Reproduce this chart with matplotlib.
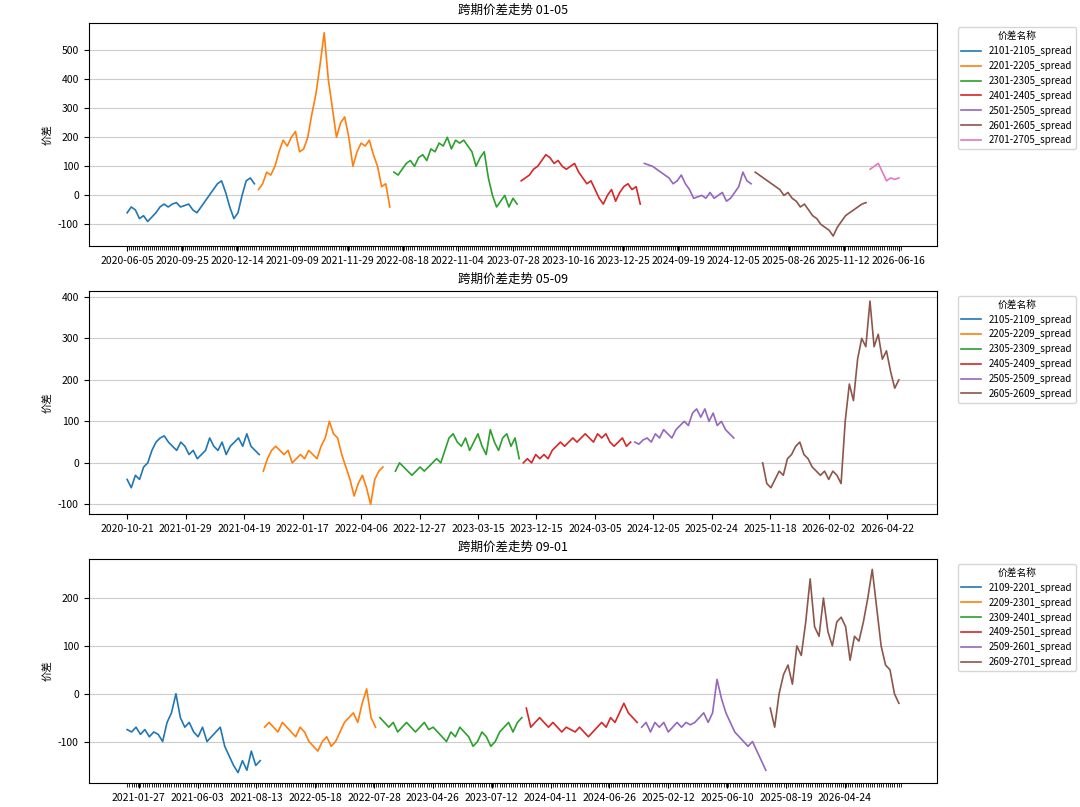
import numpy as np
import matplotlib
matplotlib.use("Agg")
import matplotlib.pyplot as plt
from matplotlib.ticker import FixedLocator

plt.rcParams['font.family'] = ['Noto Sans CJK SC', 'DejaVu Sans']
plt.rcParams['axes.unicode_minus'] = False

# ---- panel 1: 01-05 ----
names_0105 = ["2101-2105_spread", "2201-2205_spread", "2301-2305_spread",
              "2401-2405_spread", "2501-2505_spread", "2601-2605_spread",
              "2701-2705_spread"]
vals_0105 = [
    [-60, -40, -50, -80, -70, -90, -75, -60, -40, -30, -40, -30, -25, -40, -35,
     -30, -50, -60, -40, -20, 0, 20, 40, 50, 10, -40, -80, -60, 0, 50, 60, 40],
    [20, 40, 80, 70, 100, 150, 190, 170, 200, 220, 150, 160, 200, 280, 350, 450,
     560, 400, 300, 200, 250, 270, 200, 100, 150, 180, 170, 190, 140, 100, 30, 40, -40],
    [80, 70, 90, 110, 120, 100, 130, 140, 120, 160, 150, 180, 170, 200, 160, 190,
     180, 190, 170, 150, 100, 130, 150, 60, 0, -40, -20, 0, -40, -10, -30],
    [50, 60, 70, 90, 100, 120, 140, 130, 110, 120, 100, 90, 100, 110, 80, 60, 40,
     50, 20, -10, -30, 0, 20, -20, 10, 30, 40, 20, 30, -30],
    [110, 105, 100, 90, 80, 70, 60, 40, 50, 70, 40, 20, -10, -5, 0, -10, 10, -10,
     0, 10, -20, -10, 10, 30, 80, 50, 40],
    [80, 70, 60, 50, 40, 30, 20, 0, 10, -10, -20, -40, -30, -50, -70, -80, -100,
     -110, -120, -140, -110, -90, -70, -60, -50, -40, -30, -25],
    [90, 100, 110, 80, 50, 60, 55, 60],
]
ticks_0105 = ["2020-06-05", "2020-09-25", "2020-12-14", "2021-09-09", "2021-11-29",
              "2022-08-18", "2022-11-04", "2023-07-28", "2023-10-16", "2023-12-25",
              "2024-09-19", "2024-12-05", "2025-08-26", "2025-11-12", "2026-06-16"]

# ---- panel 2: 05-09 ----
names_0509 = ["2105-2109_spread", "2205-2209_spread", "2305-2309_spread",
              "2405-2409_spread", "2505-2509_spread", "2605-2609_spread"]
vals_0509 = [
    [-40, -60, -30, -40, -10, 0, 30, 50, 60, 65, 50, 40, 30, 50, 40, 20, 30, 10,
     20, 30, 60, 40, 30, 50, 20, 40, 50, 60, 40, 70, 40, 30, 20],
    [-20, 10, 30, 40, 30, 20, 30, 0, 10, 20, 10, 30, 20, 10, 40, 60, 100, 70, 60,
     20, -10, -40, -80, -50, -30, -60, -100, -40, -20, -10],
    [-20, 0, -10, -20, -30, -20, -10, -20, -10, 0, 10, 0, 30, 60, 70, 50, 40, 60,
     30, 50, 70, 40, 20, 80, 50, 30, 60, 70, 40, 60, 10],
    [0, 10, 0, 20, 10, 20, 10, 30, 40, 50, 40, 50, 60, 50, 60, 70, 60, 50, 70, 60,
     70, 50, 40, 50, 60, 40, 50],
    [50, 45, 55, 60, 50, 70, 60, 80, 70, 60, 80, 90, 100, 90, 120, 130, 110, 130,
     100, 120, 90, 100, 80, 70, 60],
    [0, -50, -60, -40, -20, -30, 10, 20, 40, 50, 20, 10, -10, -20, -30, -20, -40,
     -20, -30, -50, 100, 190, 150, 250, 300, 280, 390, 280, 310, 250, 270, 220, 180, 200],
]
gaps_0509 = [0, 0, 2, 0, 0, 6]
ticks_0509 = ["2020-10-21", "2021-01-29", "2021-04-19", "2022-01-17", "2022-04-06",
              "2022-12-27", "2023-03-15", "2023-12-15", "2024-03-05", "2024-12-05",
              "2025-02-24", "2025-11-18", "2026-02-02", "2026-04-22"]

# ---- panel 3: 09-01 ----
names_0901 = ["2109-2201_spread", "2209-2301_spread", "2309-2401_spread",
              "2409-2501_spread", "2509-2601_spread", "2609-2701_spread"]
vals_0901 = [
    [-75, -80, -70, -85, -75, -90, -80, -85, -100, -60, -40, 0, -50, -70, -60, -80,
     -90, -70, -100, -90, -80, -70, -110, -130, -150, -165, -140, -160, -120, -150, -140],
    [-70, -60, -70, -80, -60, -70, -80, -90, -70, -80, -100, -110, -120, -100, -90,
     -110, -100, -80, -60, -50, -40, -60, -20, 10, -50, -70],
    [-50, -60, -70, -60, -80, -70, -60, -70, -80, -70, -60, -75, -70, -80, -90, -100,
     -80, -90, -70, -80, -90, -110, -100, -80, -90, -110, -100, -80, -70, -60, -80, -60, -50],
    [-30, -70, -60, -50, -60, -70, -60, -70, -80, -70, -75, -80, -70, -80, -90, -80,
     -70, -60, -70, -50, -60, -40, -20, -40, -50, -60],
    [-70, -60, -80, -60, -70, -60, -80, -70, -60, -70, -60, -65, -60, -50, -40, -60,
     -40, 30, -10, -40, -60, -80, -90, -100, -110, -100, -120, -140, -160],
    [-30, -70, 0, 40, 60, 20, 100, 80, 150, 240, 140, 120, 200, 130, 100, 150, 160,
     140, 70, 120, 110, 150, 200, 260, 180, 100, 60, 50, 0, -20],
]
ticks_0901 = ["2021-01-27", "2021-06-03", "2021-08-13", "2022-05-18", "2022-07-28",
              "2023-04-26", "2023-07-12", "2024-04-11", "2024-06-26", "2025-02-12",
              "2025-06-10", "2025-08-19", "2026-04-24"]


def draw(ax, title, names, vals, ticklabels, gaps=None, dense=False, first=0.0, last=1.0):
    pos = 0
    for i, (n, v) in enumerate(zip(names, vals)):
        if gaps:
            pos += gaps[i]
        x = np.arange(pos, pos + len(v))
        ax.plot(x, v, lw=1.2, label=n)
        pos += len(v)
    total = pos - 1
    tpos = np.linspace(first * total, last * total, len(ticklabels))
    ax.set_xticks(tpos)
    ax.set_xticklabels(ticklabels, fontsize=7.5)
    if dense:
        ax.xaxis.set_minor_locator(FixedLocator(np.arange(0, pos, 0.5)))
        ax.tick_params(axis='x', which='minor', length=3, width=0.6)
    ax.tick_params(axis='y', labelsize=7.5)
    ax.grid(axis='y', color='#cccccc', lw=0.8)
    ax.set_title(title, fontsize=9)
    ax.set_ylabel("价差", fontsize=7.5)
    ax.legend(title="价差名称", loc='upper left', bbox_to_anchor=(1.018, 1.0),
              fontsize=7, title_fontsize=7)


fig, axes = plt.subplots(3, 1, figsize=(10.8, 8.07), dpi=100)
fig.subplots_adjust(left=0.082, right=0.868, top=0.972, bottom=0.03, hspace=0.2)
draw(axes[0], "跨期价差走势 01-05", names_0105, vals_0105, ticks_0105, dense=True)
draw(axes[1], "跨期价差走势 05-09", names_0509, vals_0509, ticks_0509,
     gaps=gaps_0509, last=0.985)
draw(axes[2], "跨期价差走势 09-01", names_0901, vals_0901, ticks_0901, dense=True,
     first=0.015, last=0.93)
fig.savefig("out.png")
